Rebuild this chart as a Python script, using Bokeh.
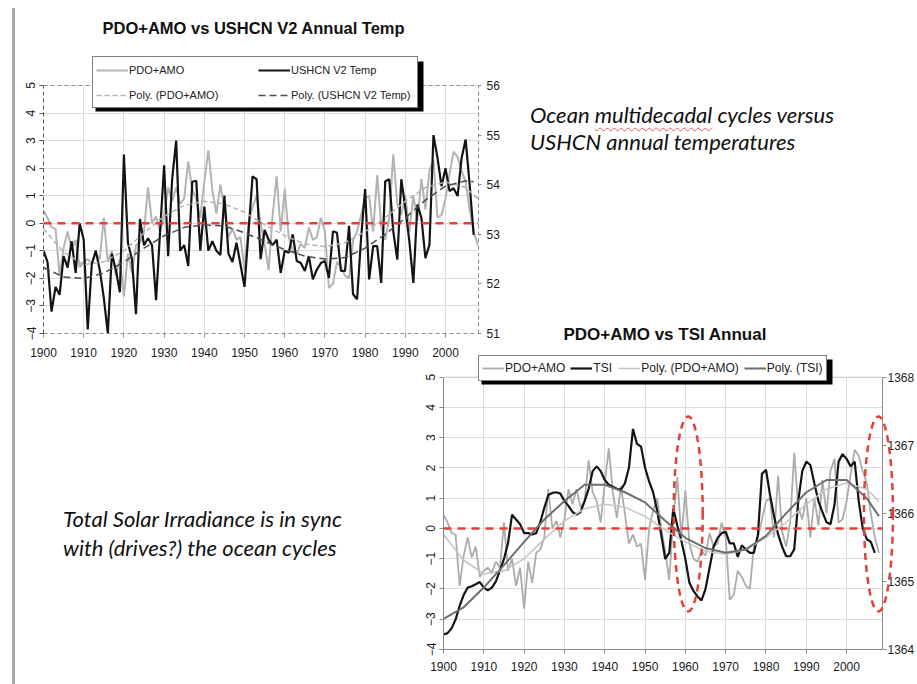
import numpy as np
from bokeh.plotting import figure
from bokeh.models import (Range1d, LinearAxis, FixedTicker, Span, Legend, LegendItem,
                          PolyAnnotation, BoxAnnotation, Div)
from bokeh.layouts import row, column
from bokeh.embed import file_html
from bokeh.resources import INLINE

# ---------------- data ----------------
pdo_years = list(range(1900, 2009))
pdo_amo = [0.45, 0.2, -0.15, -0.2, -1.9, -0.9, -0.3, -0.95, -0.6, -1.6,
           -1.4, -1.3, -1.45, -1.1, -1.3, 0.2, -1.4, -1.0, -1.9, -1.3,
           -2.65, -1.1, -1.8, -0.8, -0.7, -0.3, 1.3, 0.0, 0.25, -0.3,
           0.3, 1.3, 0.8, 1.3, 0.7, 0.9, 2.25, 1.2, 0.9, 0.2,
           1.5, 2.65, 1.2, 0.35, 1.4, 0.5, -0.5, -0.2, -0.6, -0.5,
           -1.7, 0.0, 0.6, 1.0, 0.0, -0.75, -1.7, 0.3, 1.7, -0.3,
           1.25, -0.5, -1.0, -1.1, -0.75, -0.9, -0.15, -0.6, -0.5, 0.2,
           -0.3, -2.35, -2.2, -1.4, -1.6, -1.9, -2.0, -0.6, -0.3, 0.3,
           0.9, 1.0, -0.3, 1.75, -0.1, -0.6, 0.2, 2.5, 0.7, 0.3,
           1.0, -0.3, 1.0, 0.1, 1.6, 0.5, 1.9, 2.3, 0.2, 0.3,
           0.9, 1.8, 2.6, 2.4, 1.9, 1.5, 0.5, -0.3, -0.8]

ushcn_years = list(range(1900, 2008))
ushcn_temp = [52.67, 52.44, 51.44, 51.94, 51.78, 52.56, 52.33, 52.86, 52.22, 53.22,
              52.89, 51.08, 52.39, 52.67, 52.28, 51.72, 51.00, 52.61, 52.28, 51.83,
              54.61, 52.83, 52.50, 51.39, 53.31, 52.78, 52.92, 52.78, 51.67, 53.06,
              54.39, 52.56, 54.11, 54.89, 52.67, 52.78, 52.36, 54.06, 54.08, 52.67,
              53.56, 52.67, 52.86, 52.67, 52.58, 53.78, 52.61, 52.44,
              52.83, 52.39, 51.94, 53.06, 54.17, 54.11, 52.50, 53.09, 52.89, 52.78,
              52.89, 52.22, 52.67, 52.63, 53.00, 52.46, 52.42, 52.26, 52.56, 52.09,
              52.29, 52.42, 52.46, 52.12, 53.06, 53.03, 52.26, 52.26, 53.17, 51.79,
              51.69, 52.93, 53.91, 52.09, 52.76, 52.76, 52.02, 54.07, 54.11, 53.06,
              52.49, 54.11, 53.53, 52.86, 52.02, 53.60, 53.33, 52.52, 52.79, 55.00,
              54.54, 53.97, 54.33, 53.87, 53.93, 53.77, 54.54, 54.91, 54.00, 52.99]

tsi_years = list(range(1900, 2008))
tsi = [1364.22, 1364.24, 1364.31, 1364.44, 1364.64, 1364.80, 1364.91, 1364.93, 1364.96, 1364.99,
       1364.91, 1364.87, 1364.91, 1365.00, 1365.16, 1365.33, 1365.56, 1365.98, 1365.91, 1365.84,
       1365.71, 1365.71, 1365.69, 1365.71, 1365.87, 1366.08, 1366.27, 1366.30, 1366.31, 1366.29,
       1366.18, 1366.11, 1366.02, 1365.98, 1366.02, 1366.18, 1366.36, 1366.62, 1366.69, 1366.62,
       1366.49, 1366.42, 1366.39, 1366.36, 1366.35, 1366.44, 1366.67, 1367.24, 1367.02, 1366.98,
       1366.67, 1366.47, 1366.31, 1366.04, 1365.69, 1365.33, 1365.42, 1366.07, 1365.82, 1365.60,
       1365.33, 1364.98, 1364.86, 1364.78, 1364.72, 1364.89, 1365.20, 1365.51, 1365.64, 1365.71,
       1365.73, 1365.56, 1365.56, 1365.36, 1365.53, 1365.47, 1365.42, 1365.42, 1365.69, 1366.58,
       1366.64, 1366.27, 1365.96, 1365.69, 1365.51, 1365.37, 1365.37, 1365.47, 1366.18, 1366.62,
       1366.76, 1366.71, 1366.44, 1366.18, 1366.02, 1365.87, 1365.84, 1366.13, 1366.76, 1366.87,
       1366.80, 1366.69, 1366.76, 1366.18, 1365.78, 1365.62, 1365.58, 1365.42]

trend_years = [1900, 1905, 1910, 1915, 1920, 1925, 1930, 1935, 1940, 1945, 1950, 1955,
               1960, 1965, 1970, 1975, 1980, 1985, 1990, 1995, 2000, 2005, 2008]
poly_pdo_amo = [-0.2, -1.05, -1.5, -1.4, -1.0, -0.35, 0.25, 0.65, 0.8, 0.7, 0.4, -0.05,
                -0.45, -0.75, -0.85, -0.7, -0.3, 0.2, 0.8, 1.3, 1.5, 1.3, 0.9]
poly_tsi = [1364.45, 1364.62, 1364.91, 1365.24, 1365.58, 1365.91, 1366.18, 1366.42, 1366.42,
            1366.31, 1366.16, 1365.89, 1365.64, 1365.49, 1365.42, 1365.47, 1365.67, 1366.00,
            1366.31, 1366.49, 1366.49, 1366.22, 1365.96]
ushcn_trend_years = [1900, 1905, 1910, 1915, 1920, 1925, 1930, 1935, 1940, 1945, 1950, 1955,
                     1960, 1965, 1970, 1975, 1980, 1985, 1990, 1995, 2000, 2005, 2007]
poly_ushcn = [52.33, 52.14, 52.11, 52.22, 52.44, 52.72, 52.97, 53.14, 53.19, 53.17, 53.03,
              52.86, 52.69, 52.56, 52.50, 52.53, 52.72, 53.00, 53.33, 53.69, 53.97, 54.08, 54.06]

decade_ticks = [1900, 1910, 1920, 1930, 1940, 1950, 1960, 1970, 1980, 1990, 2000]
inner_decades = [1910, 1920, 1930, 1940, 1950, 1960, 1970, 1980, 1990, 2000]
index_ticks = [-4, -3, -2, -1, 0, 1, 2, 3, 4, 5]
temp_ticks = [51, 52, 53, 54, 55, 56]
tsi_ticks = [1364, 1365, 1366, 1367, 1368]

ellipse_years = [1960.7, 2007.9]
ellipse_mid = 0.48
ellipse_half_width = 3.6
ellipse_half_height = 3.22

# ---------------- styles ----------------
TICK_FONT = "'Liberation Sans', Arial, sans-serif"
TEXT_FONT = "'Liberation Sans', Arial, sans-serif"
RED = "#e2403a"


def style_axis(ax, ticks, color, dash=None, vertical=False, size="12px", standoff=4,
               tick_out=4, bounds=None):
    ax.ticker = FixedTicker(ticks=ticks)
    ax.major_label_text_font = TICK_FONT
    ax.major_label_text_font_size = size
    ax.major_label_text_color = "#1a1a1a"
    ax.axis_line_color = color
    if dash:
        ax.axis_line_dash = dash
    ax.major_tick_line_color = color
    ax.major_tick_out = tick_out
    ax.major_tick_in = 0
    ax.minor_tick_line_color = None
    ax.major_label_standoff = standoff
    if vertical:
        ax.major_label_orientation = "vertical"
    if bounds:
        ax.bounds = bounds


def style_title(t, size, offset, standoff):
    t.text_font = TEXT_FONT
    t.text_font_size = size
    t.text_font_style = "bold"
    t.text_color = "#111111"
    t.align = "left"
    t.offset = offset
    t.standoff = standoff


def make_legend(items, loc, size, glyph_w, **kw):
    return Legend(items=items, location=loc, orientation="horizontal",
                  label_text_font=TEXT_FONT, label_text_font_size=size,
                  label_text_color="#222222", glyph_width=glyph_w, glyph_height=12,
                  label_standoff=1, padding=3, margin=0,
                  border_line_color="black", border_line_width=1,
                  background_fill_color="white", background_fill_alpha=1, **kw)


def shadow(l, r, t, b):
    return BoxAnnotation(left=l, right=r, top=t, bottom=b,
                         left_units="canvas", right_units="canvas",
                         top_units="canvas", bottom_units="canvas",
                         fill_color="black", fill_alpha=1, line_color=None)


# ---------------- top chart ----------------
p1 = figure(frame_width=435, frame_height=282, min_border_left=28, min_border_right=32,
            min_border_top=51, min_border_bottom=32,
            x_range=Range1d(1900, 2008.2), y_range=Range1d(-4, 6.2339),
            output_backend="svg", toolbar_location=None,
            title="PDO+AMO vs USHCN V2 Annual Temp")
p1.extra_y_ranges = {"temp": Range1d(51, 56.6855)}
style_title(p1.title, "16.5px", 59, 30)
p1.outline_line_color = None
p1.xgrid.ticker = FixedTicker(ticks=decade_ticks)
p1.ygrid.ticker = FixedTicker(ticks=index_ticks)
p1.xgrid.grid_line_color = "#dddddd"
p1.ygrid.grid_line_color = "#dddddd"
style_axis(p1.xaxis[0], decade_ticks, "#8c8c8c", dash="4 3", standoff=10)
style_axis(p1.yaxis[0], index_ticks, "#555555", dash="4 3", vertical=True, standoff=4,
           bounds=(-4, 5))
ax_t = LinearAxis(y_range_name="temp")
style_axis(ax_t, temp_ticks, "#8c8c8c", dash="4 3", standoff=5, tick_out=3, bounds=(51, 56))
p1.add_layout(ax_t, "right")

r_pdo = p1.line(pdo_years, pdo_amo, line_color="#b3b3b3", line_width=2)
r_us = p1.line(ushcn_years, ushcn_temp, y_range_name="temp", line_color="#141414", line_width=2.2)
r_ppdo = p1.line(trend_years, poly_pdo_amo, line_color="#b3b3b3", line_width=1.5, line_dash="5 3")
r_pus = p1.line(ushcn_trend_years, poly_ushcn, y_range_name="temp", line_color="#4d4d4d",
                line_width=1.5, line_dash="7 4")

p1.add_layout(BoxAnnotation(bottom=5, fill_color="white", fill_alpha=1, line_color=None))
p1.add_layout(Span(location=5, dimension="width", line_color="#8c8c8c", line_width=1, line_dash="4 3"))
p1.add_layout(Span(location=0, dimension="width", line_color=RED, line_width=2.5, line_dash="8 6"))
p1.add_layout(shadow(80, 408, 61, 111))
leg1 = make_legend([LegendItem(label="PDO+AMO", renderers=[r_pdo]),
                    LegendItem(label="USHCN V2 Temp", renderers=[r_us]),
                    LegendItem(label="Poly. (PDO+AMO)", renderers=[r_ppdo]),
                    LegendItem(label="Poly. (USHCN V2 Temp)", renderers=[r_pus])],
                   (49, 225), "11px", 32, ncols=2, label_width=123, label_height=19, spacing=6)
p1.add_layout(leg1, "center")

# ---------------- bottom chart ----------------
p2 = figure(frame_width=439, frame_height=303, min_border_left=31, min_border_right=30,
            min_border_top=25, min_border_bottom=30,
            x_range=Range1d(1900, 2008.9), y_range=Range1d(-4, 6.0145),
            output_backend="svg", toolbar_location=None,
            title="PDO+AMO vs TSI Annual")
p2.extra_y_ranges = {"tsi": Range1d(1364, 1368.451)}
p2.border_fill_alpha = 0
p2.background_fill_color = None
style_title(p2.title, "17px", 120, 5)
p2.outline_line_color = None
p2.xgrid.ticker = FixedTicker(ticks=inner_decades)
p2.ygrid.ticker = FixedTicker(ticks=index_ticks)
p2.xgrid.grid_line_color = "#dddddd"
p2.ygrid.grid_line_color = "#dddddd"
style_axis(p2.xaxis[0], decade_ticks, "#8a8a8a", standoff=8)
style_axis(p2.yaxis[0], index_ticks, "#8a8a8a", vertical=True, standoff=4, bounds=(-4, 5))
ax_s = LinearAxis(y_range_name="tsi")
style_axis(ax_s, tsi_ticks, "#8a8a8a", standoff=1, tick_out=4, bounds=(1364, 1368))
p2.add_layout(ax_s, "right")

r2_pdo = p2.line(pdo_years, pdo_amo, line_color="#acacac", line_width=1.8)
r2_tsi = p2.line(tsi_years, tsi, y_range_name="tsi", line_color="#141414", line_width=2.2)
r2_ppdo = p2.line(trend_years, poly_pdo_amo, line_color="#c6c6c6", line_width=1.6)
r2_ptsi = p2.line(trend_years, poly_tsi, y_range_name="tsi", line_color="#6e6e6e", line_width=2)

p2.add_layout(BoxAnnotation(bottom=5, left=1904, fill_color="white", fill_alpha=1, line_color=None))
p2.add_layout(Span(location=5, dimension="width", line_color="#c8c8c8", line_width=1))
p2.add_layout(Span(location=0, dimension="width", line_color=RED, line_width=2.5, line_dash="8 6"))

p2.add_layout(shadow(69, 420, 39, 64))
leg2 = make_legend([LegendItem(label="PDO+AMO", renderers=[r2_pdo]),
                    LegendItem(label="TSI", renderers=[r2_tsi]),
                    LegendItem(label="Poly. (PDO+AMO)", renderers=[r2_ppdo]),
                    LegendItem(label="Poly. (TSI)", renderers=[r2_ptsi])],
                   (35, 268), "12px", 22, label_height=18, spacing=5)
p2.add_layout(leg2, "center")

# transparent overlay with the same year / index scale as p2, a little wider,
# so the dashed ellipses may cross the right-hand axis as in the original
p3 = figure(frame_width=457, frame_height=303, min_border=0,
            x_range=Range1d(1900, 2013.37), y_range=Range1d(-4, 6.0145),
            x_axis_location=None, y_axis_location=None,
            output_backend="svg", toolbar_location=None, title=None)
p3.grid.visible = False
p3.outline_line_color = None
p3.background_fill_color = None
p3.border_fill_color = None
theta = np.linspace(0, 2 * np.pi, 120)
for cx in ellipse_years:
    p3.add_layout(PolyAnnotation(xs=list(cx + ellipse_half_width * np.cos(theta)),
                                 ys=list(ellipse_mid + ellipse_half_height * np.sin(theta)),
                                 fill_color=None, fill_alpha=0,
                                 line_color=RED, line_alpha=1, line_width=2.5, line_dash="7 5"))

# ---------------- text blocks ----------------
TXT = "font-family: Lato, 'Open Sans', sans-serif; font-style: italic; color: #111;"
div1 = Div(text=('<div style="%s font-size: 22px; line-height: 27px; white-space: nowrap;">'
                 'Ocean <span style="text-decoration: underline wavy #e05a5a; '
                 'text-decoration-thickness: 1px; text-underline-offset: 4px;">multidecadal</span>'
                 ' cycles versus<br>USHCN annual temperatures</div>') % TXT,
           width=380, margin=(101, 0, 0, 20))
div2 = Div(text=('<div style="%s font-size: 22px; line-height: 29px; white-space: nowrap;">'
                 'Total Solar Irradiance is in sync<br>with (drives?) the ocean cycles</div>') % TXT,
           width=339, margin=(184, 10, 0, 48))

bar = Div(text="", width=3, height=676, margin=(8, 0, 0, 12),
          styles={"background-color": "#a8a8a8"})

p3.margin = (0, 0, 0, -474)
row1 = row(p1, div1, margin=(0, 0, 0, 0))
row2 = row(div2, p2, p3, margin=(-45, 0, 0, 0))
layout = row(bar, column(row1, row2, margin=(0, 0, 0, 0)), margin=(0, 0, 0, 0))

open("out.html", "w").write(file_html(layout, INLINE))
